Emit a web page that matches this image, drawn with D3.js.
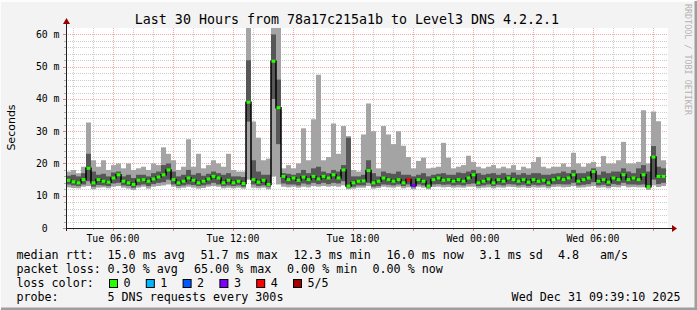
<!DOCTYPE html>
<html>
<head>
<meta charset="utf-8">
<script src="https://cdn.jsdelivr.net/npm/d3@7"></script>
<style>
    body { margin: 0; background: #f3f3f3; }
    svg text { font-family: "DejaVu Sans Mono", monospace; white-space: pre; }
</style>
</head>
<body>
<div id="chart"></div>
<script>
// Time range of the graph (one sample every 15 minutes)
const startStamp = "2025-12-30 03:39:10";
const endStamp = "2025-12-31 09:39:10";
const stepMinutes = 15;

// Smoke: slowest ping, upper quartile, median, lower quartile, fastest ping (ms)
const rttMax = [
    17.5, 18, 17, 19, 32.7, 21, 19, 21, 18, 19.5,
    20, 18.5, 20, 18, 18.5, 19, 18, 20, 19.5, 25,
    23, 21, 18, 19, 27.5, 19, 23, 18.5, 19.5, 21,
    20, 19, 23, 18, 17.5, 17.5, 62.5, 33, 28, 21,
    21.5, 62.5, 62.5, 18.5, 19.5, 18.5, 20, 30.9, 21, 33.7,
    47.5, 21, 22, 32.4, 23, 31.6, 28.5, 18, 17.5, 29,
    38.6, 30, 18.5, 31.6, 29, 26, 30, 25.5, 22, 18.5,
    20.8, 21.8, 18.5, 18.7, 19, 26.4, 21.8, 18.5, 19, 19.5,
    22.4, 20.5, 19, 18.5, 19, 19.5, 18.5, 19, 18.5, 19.5,
    18, 19, 18.5, 20.5, 22, 19, 18.5, 19, 19, 20,
    19, 23.3, 20, 19, 20, 20.5, 19, 22.3, 20, 20,
    21, 26.7, 20, 20, 20.5, 36.5, 20, 36.1, 33.1, 21
];
const rttUpper = [
    16.2, 16.5, 16, 17, 23, 17.5, 16.5, 16.8, 16, 17.2,
    17.5, 16, 16.5, 15.5, 16.5, 16.5, 16, 17, 17.5, 19.5,
    20, 17.5, 16, 16.5, 18, 16.5, 17, 16.2, 16.8, 17.5,
    17, 16.5, 17, 16, 16, 15.8, 52, 21, 17.5, 16.5,
    16.5, 60, 46, 17, 16.8, 16.5, 17, 18, 17, 18.5,
    19, 17.5, 17, 18, 17.5, 19.5, 28, 16, 16, 16.5,
    21, 17, 16, 17.5, 17, 16.8, 17.5, 16.5, 16.5, 16,
    16.5, 17, 16, 16.5, 16.8, 17, 16.5, 16.5, 17.2, 17,
    17.5, 18, 17, 16.5, 16.8, 17, 16.5, 17, 16.5, 17.2,
    16.5, 17, 16.5, 17, 17, 16.5, 16.5, 16.8, 17, 17.5,
    17, 18, 17, 17, 17.5, 18.5, 16.5, 17.5, 17, 17.5,
    17.5, 18.5, 17.5, 17, 18.5, 19.5, 17.5, 25.4, 19, 18.5
];
const rttMedian = [
    14.8, 14.3, 14.0, 15.0, 18.5, 14.0, 15.0, 14.5, 14.2, 15.5,
    16.5, 14.5, 14.0, 13.5, 14.8, 15.0, 14.5, 15.2, 15.8, 16.5,
    18.0, 15.0, 14.0, 14.5, 15.5, 14.8, 14.0, 14.5, 15.2, 16.0,
    15.5, 14.0, 14.8, 14.0, 14.5, 13.8, 39.0, 15.0, 14.2, 14.8,
    13.5, 51.7, 37.3, 16.0, 15.0, 15.5, 14.8, 15.8, 15.0, 16.0,
    15.2, 16.0, 15.5, 16.5, 15.5, 18.0, 13.0, 14.0, 14.5, 14.6,
    17.8, 14.0, 14.5, 15.5, 15.0, 14.5, 15.0, 14.0, 15.0, 13.2,
    15.0, 14.5, 13.0, 15.0, 15.5, 14.8, 15.0, 14.5, 15.0, 14.5,
    15.5, 16.5, 14.0, 14.5, 15.2, 14.0, 15.0, 14.5, 15.5, 15.0,
    14.5, 15.0, 14.2, 15.0, 14.5, 14.8, 14.0, 15.0, 15.5, 15.0,
    15.5, 16.5, 14.5, 15.0, 15.5, 17.5, 14.5, 15.0, 14.2, 15.5,
    15.0, 16.5, 15.0, 15.5, 15.0, 16.5, 12.8, 22.0, 16.0, 16.0
];
const rttLower = [
    13.5, 13.2, 13.0, 13.5, 14.5, 12.8, 13.3, 13.2, 13.0, 13.8,
    14.0, 13.2, 13.0, 12.5, 13.2, 13.5, 13.0, 13.6, 14.0, 14.2,
    15.0, 13.5, 13.0, 13.2, 13.5, 13.3, 13.0, 13.2, 13.5, 14.0,
    13.5, 13.0, 13.2, 13.0, 13.2, 12.8, 33.0, 13.5, 13.0, 13.2,
    12.8, 40.0, 26.0, 13.8, 13.5, 13.5, 13.2, 13.8, 13.5, 14.0,
    13.6, 14.0, 13.6, 14.0, 13.8, 14.5, 12.5, 12.8, 13.2, 13.2,
    14.0, 12.8, 13.0, 13.5, 13.4, 13.2, 13.5, 13.0, 13.5, 12.6,
    13.5, 13.2, 12.5, 13.5, 13.6, 13.4, 13.5, 13.2, 13.4, 13.2,
    13.6, 13.8, 13.0, 13.2, 13.5, 13.0, 13.4, 13.2, 13.6, 13.5,
    13.2, 13.4, 13.0, 13.4, 13.2, 13.4, 13.0, 13.5, 13.6, 13.5,
    13.5, 14.0, 13.2, 13.4, 13.6, 14.2, 13.2, 13.4, 13.0, 13.6,
    13.4, 14.0, 13.5, 13.5, 13.4, 13.5, 12.4, 15.0, 13.6, 14.0
];
const rttMin = [
    12.6, 12.4, 12.3, 12.8, 13.0, 12.0, 12.5, 12.6, 12.3, 12.8,
    13.0, 12.5, 12.2, 11.8, 12.5, 12.8, 12.2, 12.8, 13.0, 13.2,
    13.5, 12.8, 12.3, 12.5, 12.8, 12.5, 12.2, 12.4, 12.8, 13.0,
    12.8, 12.3, 12.5, 12.3, 12.5, 12.2, 15.0, 12.5, 12.3, 12.5,
    12.0, 16.0, 13.5, 12.8, 12.6, 12.8, 12.5, 12.8, 12.6, 13.0,
    12.8, 13.0, 12.8, 13.0, 12.8, 13.2, 12.0, 12.2, 12.5, 12.5,
    13.0, 12.2, 12.4, 12.8, 12.6, 12.5, 12.8, 12.3, 12.6, 12.0,
    12.8, 12.5, 12.0, 12.7, 12.8, 12.6, 12.7, 12.5, 12.6, 12.5,
    12.8, 12.8, 12.3, 12.5, 12.6, 12.3, 12.6, 12.5, 12.8, 12.7,
    12.5, 12.6, 12.4, 12.6, 12.5, 12.6, 12.3, 12.7, 12.8, 12.6,
    12.7, 13.0, 12.5, 12.6, 12.8, 13.0, 12.5, 12.6, 12.3, 12.7,
    12.6, 13.0, 12.6, 12.7, 12.6, 12.6, 11.8, 13.2, 12.7, 13.0
];
// Lost requests per sample (out of 5)
const lossCount = [
    0, 0, 0, 0, 0, 0, 0, 0, 0, 0,  0, 0, 0, 0, 0, 0, 0, 0, 0, 0,
    0, 0, 0, 0, 0, 0, 0, 0, 0, 0,  0, 0, 0, 0, 0, 0, 0, 0, 0, 0,
    0, 0, 0, 0, 0, 0, 0, 0, 0, 0,  0, 0, 0, 0, 0, 0, 0, 0, 0, 0,
    0, 0, 0, 0, 0, 0, 0, 0, 4, 3,  0, 0, 0, 0, 0, 0, 0, 0, 0, 0,
    0, 0, 0, 0, 0, 0, 0, 0, 0, 0,  0, 0, 0, 0, 0, 0, 0, 0, 0, 0,
    0, 0, 0, 0, 0, 0, 0, 0, 0, 0,  0, 0, 0, 0, 0, 0, 0, 0, 0, 0
];

// Loss colour legend
const lossLabels = ["0", "1", "2", "3", "4", "5/5"];
const lossColors = ["#26ff00", "#00b8ff", "#0059ff", "#7e00ff", "#ff0000", "#a00000"];

// Axis ticks
const yTicks = [0, 10, 20, 30, 40, 50, 60];
const yMax = 62;

// Legend lines
const rttStats = [["15.0 ms avg", 107.5], ["51.7 ms max", 200.5], ["12.3 ms min", 293.5],
                  ["16.0 ms now", 386.5], ["3.1 ms sd", 479.5], ["4.8", 558], ["am/s", 600]];
const lossStats = [["0.30 % avg", 107.5], ["65.00 % max", 194], ["0.00 % min", 287], ["0.00 % now", 372.5]];
const probeText = "5 DNS requests every 300s";
const stampText = "Wed Dec 31 09:39:10 2025";
const titleText = "Last 30 Hours from 78a17c215a1b to Level3 DNS 4.2.2.1";

const W = 697, H = 310;
const plot = {left: 66, right: 666, top: 28, bottom: 228};

const svg = d3.select("#chart").append("svg")
    .attr("width", W)
    .attr("height", H);

// Background and 3D frame
svg.append("rect").attr("width", W).attr("height", H).attr("fill", "#f3f3f3");
svg.append("path").attr("d", `M0,${H - 1}V1H${W - 1}`).attr("stroke", "#fdfdfd").attr("stroke-width", 2).attr("fill", "none");
svg.append("path").attr("d", `M1,${H - 1}H${W - 1}V1`).attr("stroke", "#9e9e9e").attr("stroke-width", 3).attr("fill", "none");

// Scales
const parseTime = d3.timeParse("%Y-%m-%d %H:%M:%S");
const startTime = parseTime(startStamp);
const endTime = parseTime(endStamp);
const x = d3.scaleTime().domain([startTime, endTime]).range([plot.left, plot.right]);
const y = d3.scaleLinear().domain([0, yMax]).range([plot.bottom, plot.top]);

const data = rttMedian.map((m, i) => ({
    t0: d3.timeMinute.offset(startTime, i * stepMinutes),
    t1: d3.timeMinute.offset(startTime, (i + 1) * stepMinutes),
    max: rttMax[i], upper: rttUpper[i], median: m, lower: rttLower[i], min: rttMin[i],
    loss: lossCount[i]
}));

// Canvas
svg.append("rect")
    .attr("x", plot.left).attr("y", plot.top)
    .attr("width", plot.right - plot.left + 2).attr("height", plot.bottom - plot.top)
    .attr("fill", "#ffffff");

// Dotted grid, minor then major
const grid = svg.append("g").attr("fill", "none").attr("stroke-dasharray", "1,1");
const hours = d3.timeHour.range(startTime, endTime);
grid.selectAll("line.vminor").data(hours.filter(h => h.getHours() % 3)).join("line")
    .attr("x1", d => Math.round(x(d)) + 0.5).attr("x2", d => Math.round(x(d)) + 0.5)
    .attr("y1", plot.top).attr("y2", plot.bottom)
    .attr("stroke", "#cccccc");
grid.selectAll("line.hminor").data(d3.range(2, yMax, 2).filter(v => v % 10)).join("line")
    .attr("x1", plot.left).attr("x2", plot.right + 2)
    .attr("y1", d => Math.round(y(d)) + 0.5).attr("y2", d => Math.round(y(d)) + 0.5)
    .attr("stroke", "#cccccc");
grid.selectAll("line.vmajor").data(hours.filter(h => h.getHours() % 3 === 0)).join("line")
    .attr("x1", d => Math.round(x(d)) + 0.5).attr("x2", d => Math.round(x(d)) + 0.5)
    .attr("y1", plot.top).attr("y2", plot.bottom)
    .attr("stroke", "#f0a8a8");
grid.selectAll("line.hmajor").data(yTicks.slice(1)).join("line")
    .attr("x1", plot.left).attr("x2", plot.right + 2)
    .attr("y1", d => Math.round(y(d)) + 0.5).attr("y2", d => Math.round(y(d)) + 0.5)
    .attr("stroke", "#f0a8a8");

// Smoke: outer band then inner band
const smoke = svg.append("g");
smoke.selectAll("rect.outer").data(data).join("rect")
    .attr("class", "outer")
    .attr("x", d => x(d.t0)).attr("width", d => x(d.t1) - x(d.t0))
    .attr("y", d => y(Math.min(d.max, yMax))).attr("height", d => y(d.min) - y(Math.min(d.max, yMax)))
    .attr("fill", "#a4a4a4");
smoke.selectAll("rect.inner").data(data).join("rect")
    .attr("class", "inner")
    .attr("x", d => x(d.t0)).attr("width", d => x(d.t1) - x(d.t0))
    .attr("y", d => y(d.upper)).attr("height", d => y(d.lower) - y(d.upper))
    .attr("fill", "#575757");

// Median: thin black step line, then loss coloured markers
const medianLine = d3.line()
    .x(d => x(d.t))
    .y(d => y(d.v))
    .curve(d3.curveStepAfter);
const medPoints = data.map(d => ({t: d.t0, v: d.median}));
medPoints.push({t: endTime, v: data[data.length - 1].median});
svg.append("path")
    .datum(medPoints)
    .attr("d", medianLine)
    .attr("fill", "none")
    .attr("stroke", "#000000")
    .attr("stroke-width", 1.5);
svg.append("g").selectAll("rect").data(data).join("rect")
    .attr("x", d => x(d.t0) + 0.5).attr("width", d => x(d.t1) - x(d.t0) - 1)
    .attr("y", d => y(d.median) - 1.5).attr("height", 3)
    .attr("fill", d => lossColors[d.loss]);

// Axes with arrows
const axisColor = "#202020";
const arrowColor = "#990000";
svg.append("line")
    .attr("x1", plot.left - 3).attr("x2", plot.right + 7)
    .attr("y1", plot.bottom + 0.5).attr("y2", plot.bottom + 0.5)
    .attr("stroke", axisColor);
svg.append("line")
    .attr("x1", plot.left + 0.5).attr("x2", plot.left + 0.5)
    .attr("y1", plot.bottom + 3).attr("y2", plot.top - 5)
    .attr("stroke", axisColor);
svg.append("path")
    .attr("d", `M${plot.right + 6},${plot.bottom - 3}L${plot.right + 11},${plot.bottom + 0.5}L${plot.right + 6},${plot.bottom + 4}Z`)
    .attr("fill", arrowColor);
svg.append("path")
    .attr("d", `M${plot.left - 3},${plot.top - 4}L${plot.left + 0.5},${plot.top - 10}L${plot.left + 4},${plot.top - 4}Z`)
    .attr("fill", arrowColor);

// Axis tick marks
svg.append("g").selectAll("line").data(hours).join("line")
    .attr("x1", d => Math.round(x(d)) + 0.5).attr("x2", d => Math.round(x(d)) + 0.5)
    .attr("y1", plot.bottom + 1).attr("y2", d => plot.bottom + (d.getHours() % 3 ? 2 : 3))
    .attr("stroke", d => d.getHours() % 3 ? "#b0b0b0" : "#e08080");
svg.append("g").selectAll("line").data(d3.range(0, yMax, 2)).join("line")
    .attr("x1", d => plot.left - (d % 10 ? 2 : 3)).attr("x2", plot.left)
    .attr("y1", d => Math.round(y(d)) + 0.5).attr("y2", d => Math.round(y(d)) + 0.5)
    .attr("stroke", d => d % 10 ? "#b0b0b0" : "#e08080");

// Tick labels
const fmtTime = d3.timeFormat("%a %H:%M");
svg.append("g").selectAll("text").data(d3.timeHour.every(6).range(startTime, endTime)).join("text")
    .attr("x", d => x(d)).attr("y", 241.5)
    .attr("text-anchor", "middle")
    .attr("font-size", "9.8px")
    .text(d => fmtTime(d));
svg.append("g").selectAll("text").data(yTicks).join("text")
    .attr("x", 59.5).attr("y", d => y(d) + 3.5)
    .attr("text-anchor", "end")
    .attr("font-size", "9.8px")
    .text(d => d ? `${d} m` : "0  ");

// Title, unit label and watermark
svg.append("text")
    .attr("x", 347).attr("y", 24)
    .attr("text-anchor", "middle")
    .attr("font-size", "13.3px")
    .text(titleText);
svg.append("text")
    .attr("transform", "translate(14.5,127.5) rotate(-90)")
    .attr("text-anchor", "middle")
    .attr("font-size", "11px")
    .style("font-family", "'DejaVu Sans', sans-serif")
    .text("Seconds");
svg.append("text")
    .attr("transform", "translate(685,4) rotate(90)")
    .attr("font-size", "8.4px")
    .attr("fill", "#b4b4b4")
    .text("RRDTOOL / TOBI OETIKER");

// Legend
const legend = svg.append("g").attr("font-size", "11.7px");
const rowY = [259, 273, 287, 301];
legend.append("text").attr("x", 16.4).attr("y", rowY[0]).text("median rtt:");
legend.selectAll("text.rtt").data(rttStats).join("text")
    .attr("class", "rtt").attr("x", d => d[1]).attr("y", rowY[0]).text(d => d[0]);
legend.append("text").attr("x", 16.4).attr("y", rowY[1]).text("packet loss:");
legend.selectAll("text.loss").data(lossStats).join("text")
    .attr("class", "loss").attr("x", d => d[1]).attr("y", rowY[1]).text(d => d[0]);
legend.append("text").attr("x", 16.4).attr("y", rowY[2]).text("loss color:");
const keys = legend.selectAll("g.key").data(lossLabels).join("g")
    .attr("class", "key")
    .attr("transform", (d, i) => `translate(${109 + i * 36.8},${rowY[2] - 8})`);
keys.append("rect")
    .attr("x", 0.5).attr("y", 0.5).attr("width", 8).attr("height", 8)
    .attr("fill", (d, i) => lossColors[i])
    .attr("stroke", "#000000");
keys.append("text").attr("x", 14.5).attr("y", 8).text(d => d);
legend.append("text").attr("x", 16.4).attr("y", rowY[3]).text("probe:");
legend.append("text").attr("x", 107.5).attr("y", rowY[3]).text(probeText);
legend.append("text").attr("x", 680.5).attr("y", rowY[3]).attr("text-anchor", "end").text(stampText);
</script>
</body>
</html>
